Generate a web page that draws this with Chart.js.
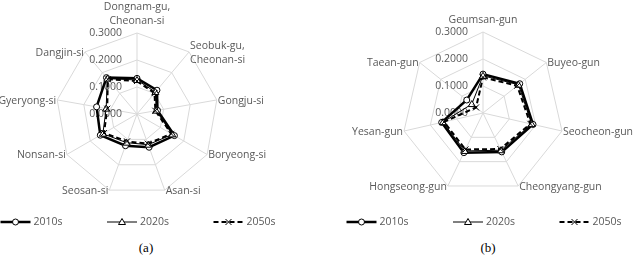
<!DOCTYPE html>
<html>
<head>
<meta charset="utf-8">
<script src="https://cdn.jsdelivr.net/npm/chart.js@4/dist/chart.umd.min.js"></script>
<style>
	body { margin: 0; background: #fff; }
	#wrap { position: relative; width: 634px; height: 255px; overflow: hidden; }
	.box { position: absolute; top: 0; width: 317px; height: 235px; }
	.cap { position: absolute; top: 240px; width: 40px; text-align: center; font: 13px "Liberation Serif", serif; line-height: 15px; color: #000; }
</style>
</head>
<body>
<div id="wrap">
	<div class="box" style="left:0"><canvas id="chart-a"></canvas></div>
	<div class="box" style="left:317px"><canvas id="chart-b"></canvas></div>
	<div class="cap" style="left:126px">(a)</div>
	<div class="cap" style="left:468px">(b)</div>
</div>
<script>
const seriesNames = ["2010s", "2020s", "2050s"];
const tickValues = [0, 0.1, 0.2, 0.3];

const labelsA = [
	["Dongnam-gu,", "Cheonan-si"],
	["Seobuk-gu,", "Cheonan-si"],
	"Gongju-si",
	"Boryeong-si",
	"Asan-si",
	"Seosan-si",
	"Nonsan-si",
	"Gyeryong-si",
	"Dangjin-si",
];
const a2010 = [0.132, 0.115, 0.077, 0.160, 0.131, 0.125, 0.157, 0.152, 0.176];
const a2020 = [0.126, 0.106, 0.072, 0.151, 0.121, 0.113, 0.146, 0.116, 0.171];
const a2050 = [0.122, 0.101, 0.069, 0.147, 0.117, 0.108, 0.141, 0.112, 0.168];

const labelsB = [
	"Geumsan-gun",
	"Buyeo-gun",
	"Seocheon-gun",
	"Cheongyang-gun",
	"Hongseong-gun",
	"Yesan-gun",
	"Taean-gun",
];
const b2010 = [0.144, 0.174, 0.190, 0.160, 0.163, 0.157, 0.077];
const b2020 = [0.138, 0.168, 0.185, 0.153, 0.156, 0.152, 0.053];
const b2050 = [0.132, 0.162, 0.180, 0.148, 0.150, 0.148, 0.033];

const styles = [
	{ borderWidth: 2.5, borderDash: [], pointStyle: "circle" },
	{ borderWidth: 1, borderDash: [], pointStyle: "triangle" },
	{ borderWidth: 2, borderDash: [5, 3], pointStyle: "crossRot" },
];

const textColor = "#595959";
const labelFont = '10.5px "Open Sans"';

function marker(ctx, style, x, y) {
	ctx.save();
	ctx.setLineDash([]);
	ctx.lineWidth = 1;
	ctx.strokeStyle = "#000";
	ctx.fillStyle = "#fff";
	ctx.beginPath();
	if (style === "circle") {
		ctx.arc(x, y, 3, 0, Math.PI * 2);
		ctx.fill();
		ctx.stroke();
	} else if (style === "triangle") {
		ctx.moveTo(x, y - 3.5);
		ctx.lineTo(x + 3.5, y + 2.5);
		ctx.lineTo(x - 3.5, y + 2.5);
		ctx.closePath();
		ctx.fill();
		ctx.stroke();
	} else {
		ctx.moveTo(x - 3, y - 3);
		ctx.lineTo(x + 3, y + 3);
		ctx.moveTo(x + 3, y - 3);
		ctx.lineTo(x - 3, y + 3);
		ctx.stroke();
	}
	ctx.restore();
}

// Excel-like text: tick values left of the axis, category labels at the vertices, legend at bottom
const excelText = {
	id: "excelText",
	beforeDatasetsDraw(chart) {
		const ctx = chart.ctx;
		const r = chart.scales.r;
		ctx.save();
		ctx.font = labelFont;
		ctx.fillStyle = textColor;
		ctx.textAlign = "right";
		ctx.textBaseline = "middle";
		tickValues.forEach((v) => {
			ctx.fillText(v.toFixed(4), r.xCenter - 15, r.yCenter - r.getDistanceFromCenterForValue(v));
		});
		ctx.restore();
	},
	afterDraw(chart) {
		const ctx = chart.ctx;
		const r = chart.scales.r;
		ctx.save();
		ctx.font = labelFont;
		ctx.fillStyle = textColor;
		ctx.textBaseline = "middle";
		const lh = 14;
		chart.data.labels.forEach((lab, i) => {
			const lines = [].concat(lab);
			const deg = (r.getIndexAngle(i) * 180) / Math.PI;
			const p = r.getPointPosition(i, r.drawingArea);
			let x = p.x;
			let y;
			if (deg < 1 || deg > 359) {
				ctx.textAlign = "center";
				y = p.y - 12 - (lines.length - 1) * lh;
			} else {
				ctx.textAlign = deg < 180 ? "left" : "right";
				x += deg < 180 ? 1 : -1;
				y = p.y + 1 - ((lines.length - 1) * lh) / 2;
			}
			lines.forEach((t, k) => ctx.fillText(t, x, y + k * lh));
		});

		// legend
		const ly = chart.height - 13;
		chart.data.datasets.forEach((ds, i) => {
			const cx = r.xCenter - 15 + (i - 1) * 106.5;
			ctx.strokeStyle = ds.borderColor;
			ctx.lineWidth = ds.borderWidth;
			ctx.setLineDash(ds.borderDash);
			ctx.beginPath();
			ctx.moveTo(cx - 15, ly);
			ctx.lineTo(cx + 15, ly);
			ctx.stroke();
			marker(ctx, ds.pointStyle, cx, ly);
			ctx.textAlign = "left";
			ctx.fillStyle = textColor;
			ctx.fillText(ds.label, cx + 18, ly);
		});
		ctx.restore();
	},
};

// draw the chart points with the same marker shapes as the legend
const markers = {
	id: "markers",
	afterDatasetsDraw(chart) {
		chart.data.datasets.forEach((ds, i) => {
			chart.getDatasetMeta(i).data.forEach((pt) => marker(chart.ctx, ds.pointStyle, pt.x, pt.y));
		});
	},
};

function makeRadar(id, labels, series, padding) {
	return new Chart(document.getElementById(id), {
		type: "radar",
		data: {
			labels: labels,
			datasets: series.map((data, i) => ({
				label: seriesNames[i],
				data: data,
				borderColor: "#000",
				backgroundColor: "transparent",
				borderWidth: styles[i].borderWidth,
				borderDash: styles[i].borderDash,
				pointStyle: styles[i].pointStyle,
				pointRadius: 0,
				fill: false,
				tension: 0,
			})),
		},
		options: {
			responsive: true,
			maintainAspectRatio: false,
			animation: false,
			layout: { padding: padding },
			plugins: {
				legend: { display: false },
				tooltip: { enabled: false },
			},
			scales: {
				r: {
					min: 0,
					max: 0.3,
					ticks: { display: false, stepSize: 0.1 },
					pointLabels: { display: false },
					grid: { color: "#d9d9d9", lineWidth: 1 },
					angleLines: { color: "#d9d9d9", lineWidth: 1 },
				},
			},
		},
		plugins: [excelText, markers],
	});
}

makeRadar("chart-a", labelsA, [a2010, a2020, a2050], { left: 56, right: 99, top: 33, bottom: 40 });
makeRadar("chart-b", labelsB, [b2010, b2020, b2050], { left: 85, right: 70, top: 32, bottom: 41 });
</script>
</body>
</html>
